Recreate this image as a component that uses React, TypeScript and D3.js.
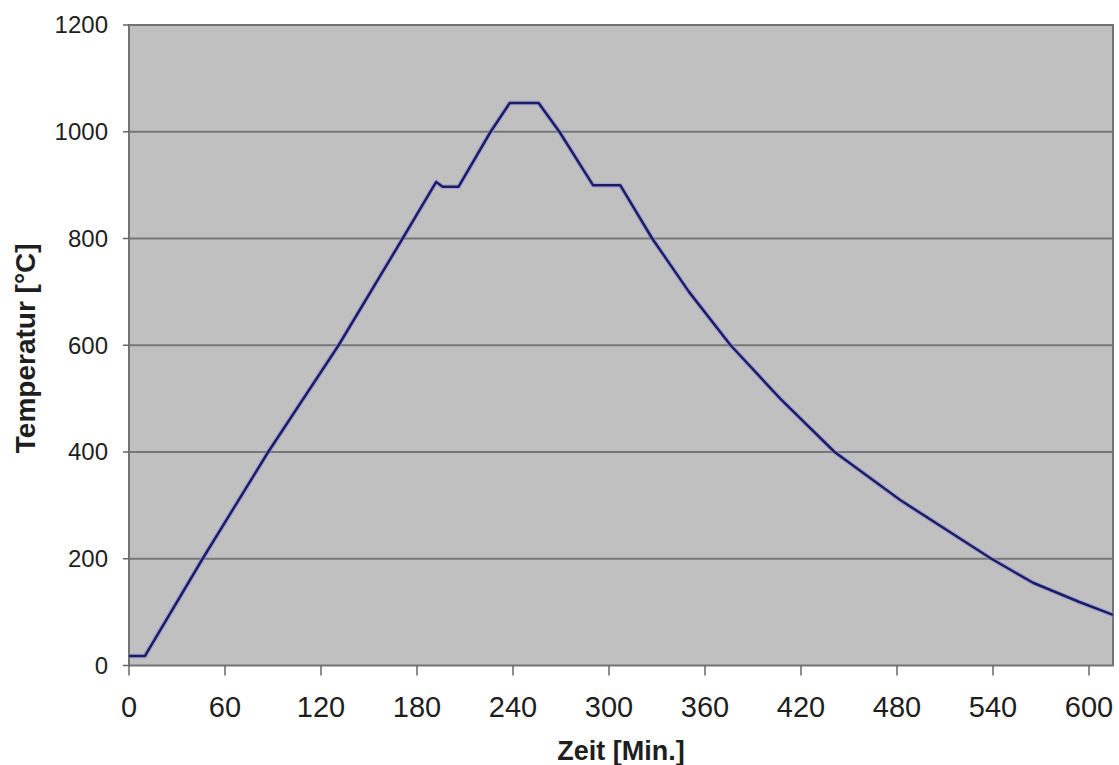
import React from "react";
import * as d3 from "d3";

// Temperaturverlauf
const minutes = [0, 10, 46, 87, 131, 171, 192, 196, 206, 226, 238, 256, 269, 290, 307, 327, 350, 376, 407, 441, 482, 539, 565, 594, 615];
const temps = [18, 18, 200, 400, 600, 800, 906, 897, 897, 1000, 1054, 1054, 1000, 900, 900, 800, 700, 600, 500, 400, 310, 200, 155, 119, 95];

const xTicks = [0, 60, 120, 180, 240, 300, 360, 420, 480, 540, 600];
const yTicks = [0, 200, 400, 600, 800, 1000, 1200];

const W = 1119;
const H = 765;
const left = 129, right = 1113, top = 25, bottom = 665.5;

export default function App() {
  const x = d3.scaleLinear().domain([0, 615]).range([left, right]);
  const y = d3.scaleLinear().domain([0, 1200]).range([bottom, top]);

  const pts = minutes.map((m, i) => [m, temps[i]] as [number, number]);
  const line = d3.line<[number, number]>()
    .x(d => x(d[0]))
    .y(d => y(d[1]));
  const path = line(pts) || "";

  const font = "'Liberation Sans', Arial, sans-serif";

  return (
    <svg width={W} height={H} style={{ position: "absolute", left: 0, top: 0, background: "#fff" }}>
      <rect x={left} y={top} width={right - left} height={bottom - top} fill="#c0c0c0" />

      {yTicks.filter(t => t > 0 && t < 1200).map(t => (
        <line key={"g" + t} x1={left} x2={right} y1={y(t)} y2={y(t)} stroke="#777" strokeWidth={2} />
      ))}

      <rect x={left} y={top} width={right - left} height={bottom - top} fill="none" stroke="#737373" strokeWidth={2} />

      {yTicks.map(t => (
        <g key={"y" + t}>
          <line x1={left - 6} x2={left} y1={y(t)} y2={y(t)} stroke="#666" strokeWidth={1.5} />
          <text x={108} y={y(t)} dy="0.35em" textAnchor="end" fontFamily={font} fontSize={24} fill="#1e1e1e">{t}</text>
        </g>
      ))}

      {xTicks.map(t => (
        <g key={"x" + t}>
          <line x1={x(t)} x2={x(t)} y1={bottom} y2={bottom + 10} stroke="#666" strokeWidth={1.5} />
          <text x={x(t)} y={717} textAnchor="middle" fontFamily={font} fontSize={29} fill="#1e1e1e">{t}</text>
        </g>
      ))}

      <path d={path} fill="none" stroke="#8f8fd6" strokeOpacity={0.55} strokeWidth={5} strokeLinejoin="round" />
      <path d={path} fill="none" stroke="#1c1c66" strokeWidth={2.5} strokeLinejoin="round" />

      <text x={(left + right) / 2} y={760} textAnchor="middle" fontFamily={font} fontWeight="bold" fontSize={27} fill="#1e1e1e">Zeit [Min.]</text>
      <text transform={`translate(35, ${(top + bottom) / 2 + 3}) rotate(-90)`} textAnchor="middle" fontFamily={font} fontWeight="bold" fontSize={28} fill="#1e1e1e">Temperatur [°C]</text>
    </svg>
  );
}
